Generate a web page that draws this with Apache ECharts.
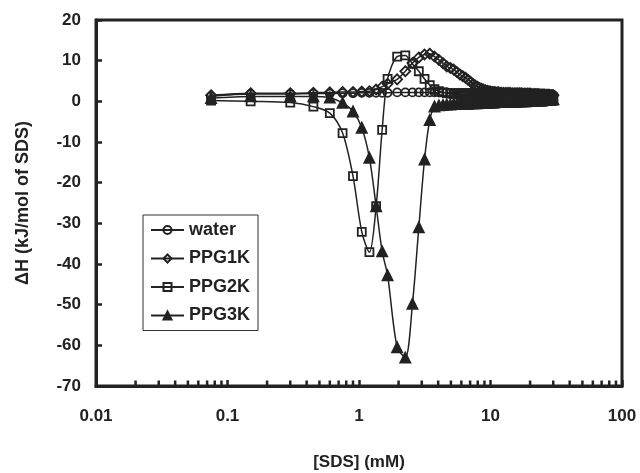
<!DOCTYPE html>
<html>
<head>
<meta charset="utf-8">
<script src="https://cdn.jsdelivr.net/npm/echarts@6/dist/echarts.min.js"></script>
<style>html,body{margin:0;padding:0;background:#fff;}#chart{width:640px;height:473px;}</style>
</head>
<body>
<div id="chart"></div>
<script>
// [SDS] (mM)
var SDS = [0.075, 0.15, 0.3, 0.45, 0.6, 0.75, 0.9, 1.05, 1.2, 1.35, 1.5, 1.65,
  1.95, 2.25, 2.55, 2.85, 3.15, 3.45, 3.75, 4.05, 4.35, 4.65, 4.95, 5.25, 5.55, 5.85,
  6.15, 6.45, 6.75, 7.05, 7.35, 7.65, 7.95, 8.25, 8.55, 8.85, 9.15, 9.45, 9.75, 10.05,
  10.35, 10.65, 10.95, 11.25, 11.55, 11.85, 12.15,
  12.6, 13.1, 13.6, 14.1, 14.6, 15.1, 15.6, 16.1, 16.6, 17.1, 17.6, 18.1, 18.6, 19.1,
  19.6, 20.1, 20.6, 21.1, 21.6, 22.1, 22.6, 23.1, 23.6, 24.1, 24.6, 25.1, 25.6, 26.1,
  26.6, 27.1, 27.6, 28.1, 28.6, 29.1, 29.6, 30.1];
// ΔH (kJ/mol of SDS)
var WATER = [1.2, 1.8, 1.8, 1.9, 1.9, 2.0, 2.0, 2.1, 2.1, 2.1, 2.1, 2.1,
  2.2, 2.2, 2.2, 2.2, 2.2, 2.2, 2.2, 2.2, 2.2, 2.2, 2.1, 2.1, 2.1, 2.1,
  2.1, 2.1, 2.1, 2.1, 2.1, 2.1, 2.0, 2.0, 2.0, 2.0, 2.0, 2.0, 2.0, 2.0,
  1.9, 1.9, 1.9, 1.9, 1.9, 1.9, 1.9,
  1.9, 1.9, 1.9, 1.9, 1.9, 1.9, 1.8, 1.8, 1.8, 1.8, 1.8, 1.8, 1.8, 1.8,
  1.7, 1.7, 1.7, 1.7, 1.7, 1.7, 1.7, 1.7, 1.6, 1.6, 1.6, 1.6, 1.6, 1.6,
  1.6, 1.6, 1.5, 1.5, 1.5, 1.5, 1.5, 1.5];
var PPG1K = [1.5, 2.0, 2.0, 2.1, 2.2, 2.3, 2.3, 2.4, 2.5, 2.9, 3.6, 4.3,
  5.4, 7.4, 9.4, 10.8, 11.5, 11.7, 11.0, 10.2, 9.4, 8.6, 8.2, 7.8, 7.2, 6.6,
  6.2, 5.8, 5.3, 4.8, 4.3, 3.9, 3.6, 3.3, 3.1, 2.9, 2.7, 2.6, 2.5, 2.4,
  2.3, 2.3, 2.2, 2.2, 2.2, 2.1, 2.1,
  2.1, 2.1, 2.1, 2.1, 2.0, 2.0, 2.0, 2.0, 2.0, 2.0, 1.9, 1.9, 1.9, 1.9,
  1.9, 1.9, 1.8, 1.8, 1.8, 1.8, 1.8, 1.8, 1.7, 1.7, 1.7, 1.7, 1.7, 1.6,
  1.6, 1.6, 1.6, 1.6, 1.5, 1.5, 1.5, 1.5];
var PPG2K = [0.2, 0.0, -0.3, -1.3, -2.9, -7.8, -18.4, -32.1, -37.1, -25.8, -7.0, 5.5,
  11.0, 11.3, 9.2, 7.4, 5.5, 4.0, 3.0, 2.5, 2.2, 2.0, 1.9, 1.8, 1.7, 1.7,
  1.6, 1.6, 1.6, 1.6, 1.5, 1.5, 1.5, 1.5, 1.5, 1.5, 1.4, 1.4, 1.4, 1.4,
  1.4, 1.4, 1.3, 1.3, 1.3, 1.3, 1.3,
  1.3, 1.3, 1.3, 1.3, 1.2, 1.2, 1.2, 1.2, 1.2, 1.2, 1.2, 1.2, 1.1, 1.1,
  1.1, 1.1, 1.1, 1.1, 1.1, 1.1, 1.0, 1.0, 1.0, 1.0, 1.0, 1.0, 1.0, 1.0,
  1.0, 1.0, 0.9, 0.9, 0.9, 0.9, 0.9, 0.9];
var PPG3K = [0.8, 1.2, 1.2, 1.2, 0.9, -0.4, -2.5, -6.5, -13.9, -25.8, -36.9, -42.8,
  -60.5, -63.0, -49.8, -31.0, -14.3, -4.6, -1.3, -1.0, -0.9, -0.8, -0.8, -0.7, -0.7, -0.6,
  -0.6, -0.6, -0.6, -0.5, -0.5, -0.5, -0.5, -0.4, -0.4, -0.4, -0.4, -0.3, -0.3, -0.3,
  -0.3, -0.3, -0.2, -0.2, -0.2, -0.2, -0.2,
  -0.2, -0.2, -0.1, -0.1, -0.1, -0.1, -0.1, 0.0, 0.0, 0.0, 0.0, 0.0, 0.0, 0.1,
  0.1, 0.1, 0.1, 0.1, 0.1, 0.2, 0.2, 0.2, 0.2, 0.2, 0.2, 0.3, 0.3, 0.3,
  0.3, 0.3, 0.4, 0.4, 0.4, 0.4, 0.5, 0.5];
var X_TICK_LABELS = ['0.01', '0.1', '1', '10', '100'];
var Y_TICKS = [-70, -60, -50, -40, -30, -20, -10, 0, 10, 20];
var X_MINOR_TICKS = [0.02, 0.03, 0.04, 0.05, 0.06, 0.07, 0.08, 0.09,
  0.2, 0.3, 0.4, 0.5, 0.6, 0.7, 0.8, 0.9,
  2, 3, 4, 5, 6, 7, 8, 9,
  20, 30, 40, 50, 60, 70, 80, 90];

var INK = '#222';
var FONT = '"Liberation Sans", Arial, sans-serif';

function pairs(xs, ys) {
  var out = [];
  for (var i = 0; i < ys.length; i++) out.push([xs[i], ys[i]]);
  return out;
}

function lineSeries(name, ys, symbol, size, filled) {
  return {
    name: name,
    type: 'line',
    data: pairs(SDS, ys),
    symbol: symbol,
    symbolSize: size,
    smooth: 0.3,
    showAllSymbol: true,
    lineStyle: { color: INK, width: 1.5 },
    itemStyle: { color: filled ? INK : 'transparent', borderColor: INK, borderWidth: 1.8 },
    emphasis: { disabled: true },
    z: 3
  };
}

var chart = echarts.init(document.getElementById('chart'), null, { renderer: 'canvas' });
chart.setOption({
  animation: false,
  backgroundColor: '#fff',
  grid: {
    left: 96, right: 18, top: 20, bottom: 87,
    containLabel: false, outerBoundsMode: 'none',
    show: true, borderColor: INK, borderWidth: 3, backgroundColor: 'transparent'
  },
  legend: {
    data: ['water', 'PPG1K', 'PPG2K', 'PPG3K'],
    orient: 'vertical',
    left: 143,
    top: 215,
    itemWidth: 33,
    itemHeight: 10,
    itemGap: 10.5,
    padding: [6, 8, 6, 7],
    borderColor: '#333',
    borderWidth: 1,
    backgroundColor: '#fff',
    textStyle: { fontFamily: FONT, fontWeight: 'bold', fontSize: 18, color: INK },
    selectedMode: false
  },
  xAxis: {
    type: 'log',
    logBase: 10,
    min: 0.01,
    max: 100,
    name: '[SDS] (mM)',
    nameLocation: 'middle',
    nameGap: 68,
    nameTextStyle: { fontFamily: FONT, fontWeight: 'bold', fontSize: 17, color: INK },
    axisLine: { onZero: false, lineStyle: { color: INK, width: 3 } },
    axisTick: { inside: true, length: 6, lineStyle: { color: INK, width: 2.5 } },
    axisLabel: {
      margin: 22,
      fontFamily: FONT, fontWeight: 'bold', fontSize: 17, color: INK,
      formatter: function (v) {
        var k = Math.round(Math.log10(v)) + 2;
        return X_TICK_LABELS[k] !== undefined ? X_TICK_LABELS[k] : String(v);
      }
    },
    splitLine: { show: false },
    minorTick: { show: false }
  },
  yAxis: {
    type: 'value',
    min: Y_TICKS[0],
    max: Y_TICKS[Y_TICKS.length - 1],
    interval: 10,
    name: 'ΔH (kJ/mol of SDS)',
    nameLocation: 'middle',
    nameGap: 64,
    nameTextStyle: { fontFamily: FONT, fontWeight: 'bold', fontSize: 18, color: INK },
    axisLine: { show: true, onZero: false, lineStyle: { color: INK, width: 3 } },
    axisTick: { show: true, inside: true, length: 6, lineStyle: { color: INK, width: 2.5 } },
    axisLabel: { margin: 15, fontFamily: FONT, fontWeight: 'bold', fontSize: 17, color: INK },
    splitLine: { show: false }
  },
  series: [
    {
      name: 'minorTicks',
      type: 'custom',
      silent: true,
      data: X_MINOR_TICKS.map(function (v) { return [v, Y_TICKS[0]]; }),
      encode: { x: 0, y: 1 },
      renderItem: function (params, api) {
        var p = api.coord([api.value(0), api.value(1)]);
        return {
          type: 'line',
          shape: { x1: p[0], y1: p[1], x2: p[0], y2: p[1] - 5.5 },
          style: { stroke: INK, lineWidth: 2.5 }
        };
      },
      z: 4
    },
    lineSeries('water', WATER, 'circle', 8, false),
    lineSeries('PPG1K', PPG1K, 'diamond', 10, false),
    lineSeries('PPG2K', PPG2K, 'rect', 8, false),
    lineSeries('PPG3K', PPG3K, 'triangle', 10, true)
  ]
});
</script>
</body>
</html>
